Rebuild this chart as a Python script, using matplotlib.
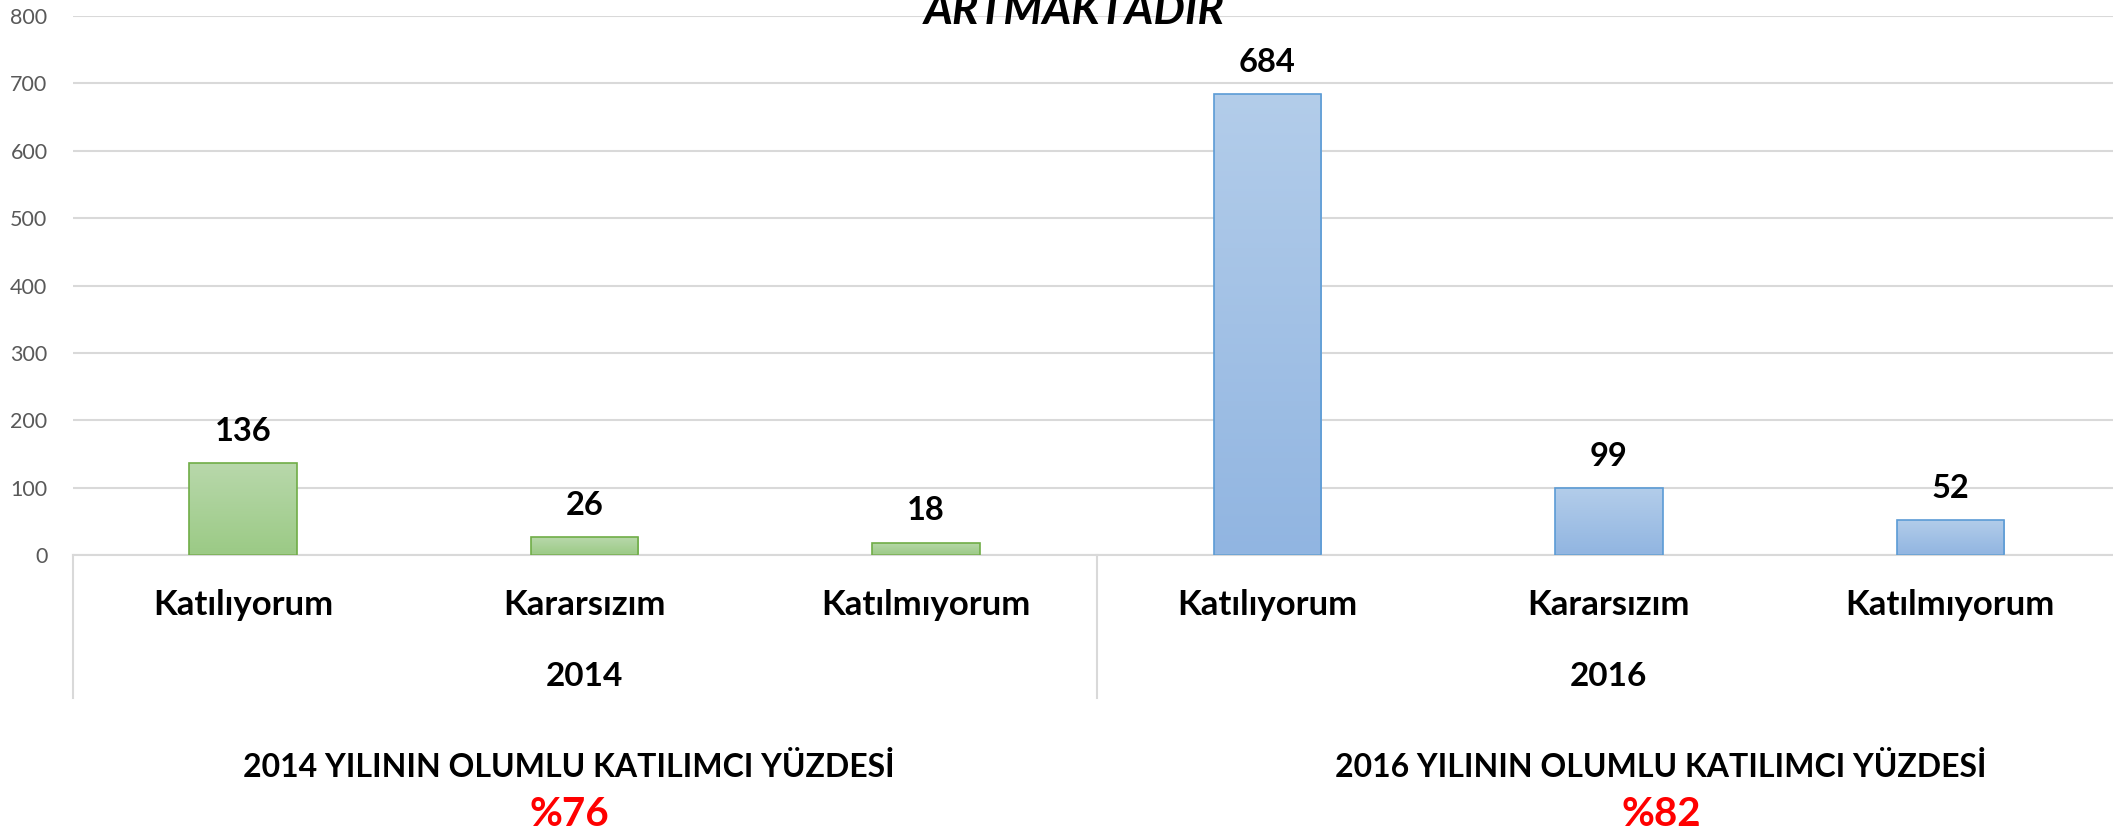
import numpy as np
import matplotlib
matplotlib.use("Agg")
import matplotlib.pyplot as plt
import matplotlib.transforms as mtransforms

plt.rcParams['font.family'] = ['Lato', 'DejaVu Sans']

# Chart data
categories = ["Katılıyorum", "Kararsızım", "Katılmıyorum",
              "Katılıyorum", "Kararsızım", "Katılmıyorum"]
years = ["2014", "2016"]
values_2014 = [136, 26, 18]
values_2016 = [684, 99, 52]
summary_titles = ["2014 YILININ OLUMLU KATILIMCI YÜZDESİ",
                  "2016 YILININ OLUMLU KATILIMCI YÜZDESİ"]
summary_values = ["%76", "%82"]
title = "ARTMAKTADIR"

W, H = 2113, 836
fig = plt.figure(figsize=(W / 100, H / 100), dpi=100)
# axes in pixel units -> figure fraction
left, right, top, bottom = 72.5, 2121, 16, 555
ax = fig.add_axes([left / W, 1 - bottom / H, (right - left) / W, (bottom - top) / H])

values = values_2014 + values_2016
x = np.arange(len(values))
bar_w = 0.315

green_top, green_bot, green_edge = "#b8d8ab", "#9bca85", "#70ad47"
blue_top, blue_bot, blue_edge = "#b3cdea", "#91b5e1", "#5b9bd5"

bars = ax.bar(x, values, width=bar_w, color="none", zorder=3)
for i, b in enumerate(bars):
    if i < 3:
        c1, c2, ec = green_top, green_bot, green_edge
    else:
        c1, c2, ec = blue_top, blue_bot, blue_edge
    b.set_edgecolor(ec)
    b.set_linewidth(1.2)
    grad = np.linspace(0, 1, 256).reshape(-1, 1)
    cmap = matplotlib.colors.LinearSegmentedColormap.from_list("g", [c1, c2])
    x0, y0 = b.get_x(), b.get_y()
    im = ax.imshow(grad, cmap=cmap, aspect="auto", zorder=2,
                   extent=[x0, x0 + b.get_width(), y0, y0 + b.get_height()],
                   origin="upper")
    im.set_clip_path(b)
    ax.annotate(str(values[i]), (x[i], values[i]), xytext=(0, 23),
                textcoords="offset points", ha="center", va="center",
                fontsize=23.5, fontweight="bold", color="black")

ax.set_xlim(-0.5, len(values) - 0.5)
ax.set_ylim(0, 800)
ax.set_yticks(range(0, 801, 100))
ax.tick_params(axis="y", length=0, labelsize=15.5, labelcolor="#595959", pad=18)
ax.set_xticks(x)
ax.set_xticklabels([])
ax.tick_params(axis="x", length=0)
ax.grid(axis="y", color="#d9d9d9", linewidth=1.5, zorder=0)
ax.set_axisbelow(True)
for s in ["top", "right", "left"]:
    ax.spines[s].set_visible(False)
ax.spines["bottom"].set_color("#d9d9d9")
ax.spines["bottom"].set_linewidth(1.5)

# multi-level category axis
ax_h = bottom - top
trans = mtransforms.blended_transform_factory(ax.transData, ax.transAxes)
for xv in [-0.5, 2.5]:
    ax.plot([xv, xv], [0, -(698 - 555) / ax_h], transform=trans, color="#d9d9d9",
            linewidth=1.5, clip_on=False)
for i, cat in enumerate(categories):
    ax.text(x[i], -(605 - 555) / ax_h, cat, transform=trans,
            ha="center", va="center", fontsize=25, fontweight="bold")
for j, yr in enumerate(years):
    ax.text(1 + 3 * j, -(676 - 555) / ax_h, yr, transform=trans,
            ha="center", va="center", fontsize=24, fontweight="bold")

# title (cut at the top like in the source)
fig.text(1074 / W, 1 - 24 / H, title, ha="center", va="baseline",
         fontsize=32, fontweight="bold", fontstyle="italic")

# summary texts
for cx, t, v in zip([569, 1661], summary_titles, summary_values):
    fig.text(cx / W, 1 - 767 / H, t, ha="center", va="center",
             fontsize=23, fontweight="bold")
    fig.text(cx / W, 1 - 814 / H, v, ha="center", va="center",
             fontsize=29, fontweight="bold", color="#ff0000")

fig.savefig("out.png", dpi=100)
